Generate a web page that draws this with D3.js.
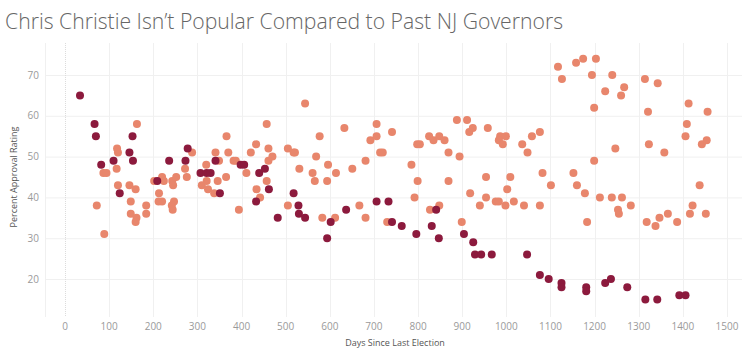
<!DOCTYPE html>
<html><head><meta charset="utf-8">
<script src="https://cdn.jsdelivr.net/npm/d3@7"></script>
<style>html,body{margin:0;padding:0;background:#fff;}svg{display:block;}</style>
</head><body>
<svg id="chart" width="750" height="360"></svg>
<script>
const titleText = "Chris Christie Isn\u2019t Popular Compared to Past NJ Governors";
const xTitle = "Days Since Last Election";
const yTitle = "Percent Approval Rating";
const xTicks = [0,100,200,300,400,500,600,700,800,900,1000,1100,1200,1300,1400,1500];
const yTicks = [20,30,40,50,60,70];

// Past governors (light)
const pastGovernors = [
[163,58],[118,52],[120,51],[87,46],[94,46],[117,47],[72,38],[89,31],[120,43],[146,43],[160,42],[149,39],[149,36],[162,35],[160,34],[184,38],[184,36],[202,44],[213,41],[220,45],[224,44],[212,39],[220,39],[243,44],[245,43],[252,45],[247,39],[242,38],[244,37],[272,47],[276,45],[288,51],[320,48],[341,51],[321,44],[310,43],[324,42],[338,41],[346,44],[365,45],[349,49],[366,55],[370,51],[382,49],[387,49],[411,46],[394,37],[421,51],[433,53],[457,58],[461,52],[470,50],[461,49],[457,44],[434,42],[442,40],[505,52],[518,51],[521,51],[544,63],[531,47],[505,38],[577,55],[569,50],[561,46],[566,44],[596,48],[594,44],[614,46],[583,35],[612,35],[633,57],[651,47],[667,38],[681,35],[681,49],[692,54],[706,55],[706,58],[714,51],[720,51],[741,56],[730,34],[785,48],[798,53],[804,53],[825,55],[835,54],[848,55],[860,54],[869,51],[799,44],[792,40],[869,44],[827,37],[848,38],[888,59],[911,59],[916,56],[924,57],[894,50],[958,57],[986,55],[999,55],[983,54],[992,53],[1036,53],[1048,51],[1058,55],[1076,56],[918,41],[954,45],[954,40],[940,38],[899,34],[1002,42],[1009,45],[976,39],[983,39],[998,38],[1017,39],[1040,38],[1076,38],
[1117,72],[1126,69],[1158,73],[1174,74],[1203,74],[1194,70],[1240,70],[1224,66],[1267,67],[1260,65],[1199,62],[1314,69],[1343,68],[1321,61],[1413,63],[1409,58],[1456,61],[1406,55],[1443,53],[1454,54],[1323,53],[1358,51],[1247,52],[1199,49],[1082,46],[1101,43],[1152,46],[1160,43],[1178,41],[1212,40],[1239,40],[1262,40],[1253,37],[1255,36],[1282,38],[1183,34],[1318,34],[1338,33],[1347,35],[1366,36],[1387,34],[1416,36],[1422,38],[1438,43],[1452,36]
];

// Chris Christie (dark)
const christie = [
[34,65],[67,58],[70,55],[82,48],[110,49],[124,41],[146,51],[153,55],[154,49],[209,44],[236,49],[273,49],[278,52],[307,46],[321,46],[330,46],[341,49],[351,41],[398,48],[406,48],[440,46],[453,47],[462,42],[433,39],[518,41],[529,38],[530,36],[544,35],[482,35],[602,34],[594,30],[637,37],[706,39],[733,39],[741,34],[763,33],[796,31],[831,33],[841,37],[847,30],[904,31],[925,29],[929,26],[943,26],[967,26],[1047,26],[1076,21],[1096,20],[1125,19],[1125,18],[1181,18],[1181,17],[1224,19],[1237,20],[1274,18],[1315,15],[1342,15],[1392,16],[1406,16]
];

const svg = d3.select("#chart");
const font = "'Open Sans', 'DejaVu Sans', sans-serif";

const x = d3.scaleLinear().domain([0,1500]).range([65,727]);
const y = d3.scaleLinear().domain([20,70]).range([279,75]);
const plotTop = 43, plotBottom = 317, plotLeft = 45, plotRight = 742;

// title
svg.append("text").attr("x",5).attr("y",29)
  .attr("font-family",font).attr("font-weight",300).attr("font-size",22)
  .attr("fill","#666").attr("textLength",558).attr("lengthAdjust","spacingAndGlyphs")
  .text(titleText);

// gridlines
const g = svg.append("g");
g.selectAll("line.h").data(yTicks).join("line")
  .attr("x1",plotLeft).attr("x2",plotRight)
  .attr("y1",d=>y(d)+0.5).attr("y2",d=>y(d)+0.5)
  .attr("stroke","#f0f0f0").attr("stroke-width",1);
g.selectAll("line.v").data(xTicks).join("line")
  .attr("x1",d=>Math.round(x(d))+0.5).attr("x2",d=>Math.round(x(d))+0.5)
  .attr("y1",plotTop).attr("y2",plotBottom)
  .attr("stroke",d=>d===0?"#dcdcdc":"#f0f0f0")
  .attr("stroke-dasharray",d=>d===0?"1,1":null)
  .attr("stroke-width",1);
g.append("line").attr("x1",plotLeft+0.5).attr("x2",plotLeft+0.5)
  .attr("y1",plotTop).attr("y2",plotBottom).attr("stroke","#f0f0f0");

// tick labels
svg.append("g").selectAll("text").data(yTicks).join("text")
  .attr("x",39).attr("y",d=>y(d)).attr("dy","0.35em")
  .attr("text-anchor","end").attr("font-family",font).attr("font-size",10)
  .attr("fill","#9a9a9a").text(d=>d);
svg.append("g").selectAll("text").data(xTicks).join("text")
  .attr("x",d=>x(d)).attr("y",326).attr("dy","0.35em")
  .attr("text-anchor","middle").attr("font-family",font).attr("font-size",10)
  .attr("fill","#9a9a9a").text(d=>d);

// axis titles
svg.append("text").attr("x",395).attr("y",343).attr("dy","0.35em")
  .attr("text-anchor","middle").attr("font-family",font).attr("font-size",9)
  .attr("fill","#555").text(xTitle);
svg.append("text").attr("transform","translate(14,177) rotate(-90)").attr("dy","0.35em")
  .attr("text-anchor","middle").attr("font-family",font).attr("font-size",9)
  .attr("fill","#555").text(yTitle);

// points
svg.append("g").selectAll("circle").data(pastGovernors).join("circle")
  .attr("cx",d=>x(d[0])).attr("cy",d=>y(d[1])).attr("r",4)
  .attr("fill","#e8866c");
svg.append("g").selectAll("circle").data(christie).join("circle")
  .attr("cx",d=>x(d[0])).attr("cy",d=>y(d[1])).attr("r",4)
  .attr("fill","#8c1a3d");
</script>
</body></html>
